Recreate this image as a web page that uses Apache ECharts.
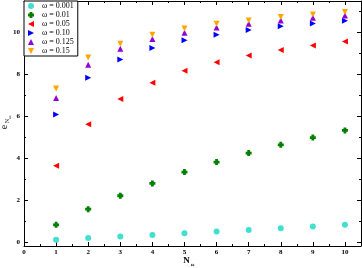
<!DOCTYPE html>
<html><head><meta charset="utf-8">
<script src="https://cdn.jsdelivr.net/npm/echarts@6/dist/echarts.min.js"></script>
<style>html,body{margin:0;padding:0;background:#fff}#c{width:362px;height:268px}</style>
</head><body><div id="c"></div>
<script>
const nValues = [1,2,3,4,5,6,7,8,9,10];
const seriesNames = ['ω = 0.001','ω = 0.01','ω = 0.05','ω = 0.10','ω = 0.125','ω = 0.15'];
const w0001 = [0.10,0.18,0.25,0.33,0.41,0.49,0.57,0.65,0.73,0.81];
const w001  = [0.81,1.56,2.20,2.79,3.33,3.81,4.24,4.63,4.98,5.32];
const w005  = [3.63,5.62,6.82,7.60,8.17,8.57,8.90,9.16,9.38,9.56];
const w010  = [6.08,7.84,8.71,9.25,9.62,9.89,10.11,10.30,10.43,10.56];
const w0125 = [6.87,8.46,9.22,9.68,9.98,10.24,10.41,10.57,10.70,10.81];
const w015  = [7.32,8.80,9.46,9.89,10.19,10.41,10.57,10.73,10.86,10.97];
const xTicks = [0,1,2,3,4,5,6,7,8,9,10];
const yTicks = [0,2,4,6,8,10];

const font = 'Liberation Serif';
const pair = arr => nValues.map((n,i)=>[n,arr[i]]);
const plus = 'path://M1.6,0 L4.4,0 L4.4,1.6 L6,1.6 L6,4.4 L4.4,4.4 L4.4,6 L1.6,6 L1.6,4.4 L0,4.4 L0,1.6 L1.6,1.6 Z';
const triUp = 'path://M0,6 L3,0 L6,6 Z';
const triDown = 'path://M0,0 L6,0 L3,6 Z';
const triLeft = 'path://M6,0 L6,6 L0,3 Z';
const triRight = 'path://M0,0 L6,3 L0,6 Z';
const styles = [
  {symbol:'circle', size:6, color:'#40E0D0'},
  {symbol:plus, size:6, color:'#008000'},
  {symbol:triLeft, size:6, color:'#FF0000'},
  {symbol:triRight, size:6, color:'#0000FF'},
  {symbol:triUp, size:6, color:'#9400D3'},
  {symbol:triDown, size:6, color:'#FFA500'}
];
const datasets = [w0001,w001,w005,w010,w0125,w015];

const xBase = {
  type:'value', min:0, max:10.5, interval:1,
  axisLine:{show:true, onZero:false, lineStyle:{color:'#000', width:1}},
  axisTick:{show:true, inside:true, length:4, lineStyle:{color:'#000'}},
  minorTick:{show:true, splitNumber:2, length:2, lineStyle:{color:'#000'}},
  splitLine:{show:false}
};
const yBase = {
  type:'value', min:-0.2, max:11.5, splitNumber:5,
  axisLine:{show:true, onZero:false, lineStyle:{color:'#000', width:1}},
  axisTick:{show:true, inside:true, length:4, lineStyle:{color:'#000'}},
  minorTick:{show:true, splitNumber:2, length:2, lineStyle:{color:'#000'}},
  splitLine:{show:false}
};

function txt(text, x, y, size, bold, rot) {
  return {
    type:'text', x:x, y:y, rotation:rot||0, silent:true,
    style:{text:text, fill:'#000', font:(bold?'bold ':'')+size+'px "'+font+'"',
      textAlign:'center', textVerticalAlign:'middle', align:'center', verticalAlign:'middle'}
  };
}

const chart = echarts.init(document.getElementById('c'), null, {renderer:'canvas'});
chart.setOption({
  animation:false,
  backgroundColor:'#fff',
  grid:{left:24, right:1, top:1, bottom:22, containLabel:false, outerBoundsMode:'none'},
  legend:{
    orient:'vertical', left:24, top:1, padding:[1,4,1,4], itemGap:1,
    itemWidth:8, itemHeight:6, borderColor:'#000', borderWidth:1, borderRadius:0,
    backgroundColor:'#fff',
    textStyle:{fontFamily:font, fontSize:8, lineHeight:7.5, color:'#000', padding:[0,0,0,2]},
    data: seriesNames.map((n,i)=>({name:n, icon:styles[i].symbol, itemStyle:{color:styles[i].color}}))
  },
  graphic:[
    txt('e', 4, 127, 10, false, Math.PI/2),
    txt('N', 7, 121, 6, false, Math.PI/2),
    txt('ω', 9.5, 117, 5, false, Math.PI/2),
    txt('N', 186.5, 261, 9, true, 0),
    txt('ω', 192.5, 264.5, 5, true, 0)
  ],
  xAxis:[
    Object.assign({}, xBase, {
      position:'bottom',
      axisLabel:{show:true, margin:3, fontFamily:font, fontSize:7, fontWeight:'bold', color:'#000', showMaxLabel:false,
        formatter:v=> xTicks.includes(v) ? String(v) : ''}
    }),
    Object.assign({}, xBase, {position:'top', axisLabel:{show:false}})
  ],
  yAxis:[
    Object.assign({}, yBase, {
      position:'left',
      axisLabel:{show:true, margin:4, fontFamily:font, fontSize:7, fontWeight:'bold', color:'#000',
        showMinLabel:false, showMaxLabel:false,
        formatter:v=> yTicks.includes(v) ? String(v) : ''}
    }),
    Object.assign({}, yBase, {position:'right', axisLabel:{show:false}})
  ],
  series: datasets.map((arr,i)=>({
    name:seriesNames[i], type:'scatter', xAxisIndex:0, yAxisIndex:0,
    symbol:styles[i].symbol, symbolSize:styles[i].size,
    itemStyle:{color:styles[i].color, opacity:1},
    data:pair(arr)
  }))
});
</script></body></html>
